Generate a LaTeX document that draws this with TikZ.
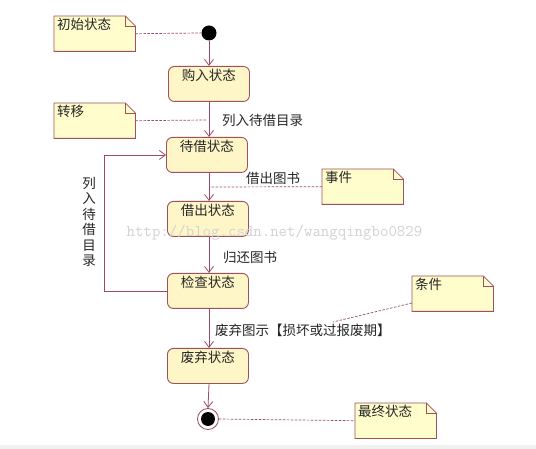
\documentclass[tikz,border=0pt]{standalone}
\usepackage{fontspec}
\newfontfamily\cjk{Noto Sans CJK SC}
\usetikzlibrary{arrows.meta,positioning}
\definecolor{linec}{HTML}{9C4A6A}
\definecolor{boxline}{HTML}{A0505A}
\definecolor{statefill}{HTML}{FFF6C8}
\definecolor{notefill}{HTML}{FFFDCC}
\definecolor{wmcol}{HTML}{D2D2D2}
\tikzset{
  x=1pt, y=-1pt,
  every node/.style={font=\cjk\fontsize{13.5}{15}\selectfont, text=black!85},
  statebox/.style={draw=boxline, fill=statefill, rounded corners=6pt, line width=0.9pt,
    minimum width=81pt, minimum height=35pt, inner sep=1pt,
    text height=12.5pt, text depth=20pt, anchor=north west},
  notebox/.style={minimum width=81pt, minimum height=35pt, inner xsep=3pt, inner ysep=1pt,
    text width=75pt, align=left, text height=12.5pt, text depth=20pt, anchor=north west},
  noteline/.style={draw=boxline, fill=notefill, line width=0.8pt},
  arr/.style={draw=linec, line width=0.8pt, -{Straight Barb[length=6pt,width=9pt]}},
  dashline/.style={draw=linec, line width=0.7pt, dash pattern=on 2.5pt off 1.5pt},
  lbl/.style={inner sep=0pt, anchor=west},
}
\begin{document}
\begin{tikzpicture}
\useasboundingbox (0,0) rectangle (536,449);
\fill[white] (0,0) rectangle (536,449);
\fill[black!6] (0,445) rectangle (536,449);

% notes (nodes first for anchors)
\node[notebox] (nInit) at (54,16) {初始状态};
\node[notebox] (nTrans) at (54,103) {转移};
\node[notebox] (nEvent) at (322,169) {事件};
\node[notebox] (nCond) at (412,276) {条件};
\node[notebox] (nFinal) at (355,403) {最终状态};
\foreach \n in {nInit,nTrans,nEvent,nCond,nFinal}{
  \path[noteline] (\n.north west) -- ([xshift=-10pt]\n.north east) -- ([yshift=-10pt]\n.north east)
     -- (\n.south east) -- (\n.south west) -- cycle;
  \draw[boxline, line width=0.6pt] ([xshift=-10pt]\n.north east) -- ([xshift=-10pt,yshift=-10pt]\n.north east)
     -- ([yshift=-10pt]\n.north east);
}
\foreach \n/\t in {nInit/初始状态,nTrans/转移,nEvent/事件,nCond/条件,nFinal/最终状态}{
  \node[notebox] at (\n.north west) {\t};
}

% initial and final
\fill[black] (209,33) circle (7.5pt);
\node[circle, minimum size=15pt, inner sep=0pt] (init) at (209,33) {};
\node[circle, draw=linec, line width=0.8pt, fill=white, minimum size=21pt, inner sep=0pt] (final) at (208,419) {};
\fill[black] (final.center) circle (7pt);

% states
\node[statebox] (buy)   at (168,66)  {购入状态};
\node[statebox] (wait)  at (166,137) {待借状态};
\node[statebox] (lend)  at (167,201) {借出状态};
\node[statebox] (check) at (167,273) {检查状态};
\node[statebox] (scrap) at (167,348) {废弃状态};

% transitions
\draw[arr] (init.south) -- (init.south |- buy.north);
\draw[arr] (init.south |- buy.south) -- (init.south |- wait.north);
\draw[arr] (init.south |- wait.south) -- (init.south |- lend.north);
\draw[arr] (init.south |- lend.south) -- (init.south |- check.north);
\draw[arr] (init.south |- check.south) -- (init.south |- scrap.north);
\draw[arr] (init.south |- scrap.south) -- (final.north);
\draw[arr] (check.west) -- ++(-63,0) |- (wait.west);

% transition labels
\node[lbl] (l1) at (222,120) {列入待借目录};
\node[lbl] (l2) at (246,178) {借出图书};
\node[lbl] (l3) at (223,257) {归还图书};
\node[lbl] (l4) at (215,330) {废弃图示【损坏或过报废期】};
\node[inner sep=0pt, align=center, font=\cjk\fontsize{13.5}{15.4}\selectfont] (l5) at (89,222)
  {列\\入\\待\\借\\目\\录};

% dashed note links
\coordinate (t1) at (207,120);
\coordinate (t2) at (210,187);
\coordinate (t3) at (333,322);
\draw[dashline] (nInit.east) -- (init.west);
\draw[dashline] (nTrans.east) -- (t1);
\draw[dashline] (nEvent.west) -- (t2);
\draw[dashline] ([yshift=-27pt]nCond.north west) -- (t3);
\draw[dashline] (final.east) -- (nFinal.west);

% watermark
\node[font=\ttfamily\fontsize{16.4}{18}\selectfont, text=wmcol, inner sep=0pt] (wmark) at (274.5,233)
  {http://blog.csdn.net/wangqingbo0829};
\end{tikzpicture}
\end{document}
